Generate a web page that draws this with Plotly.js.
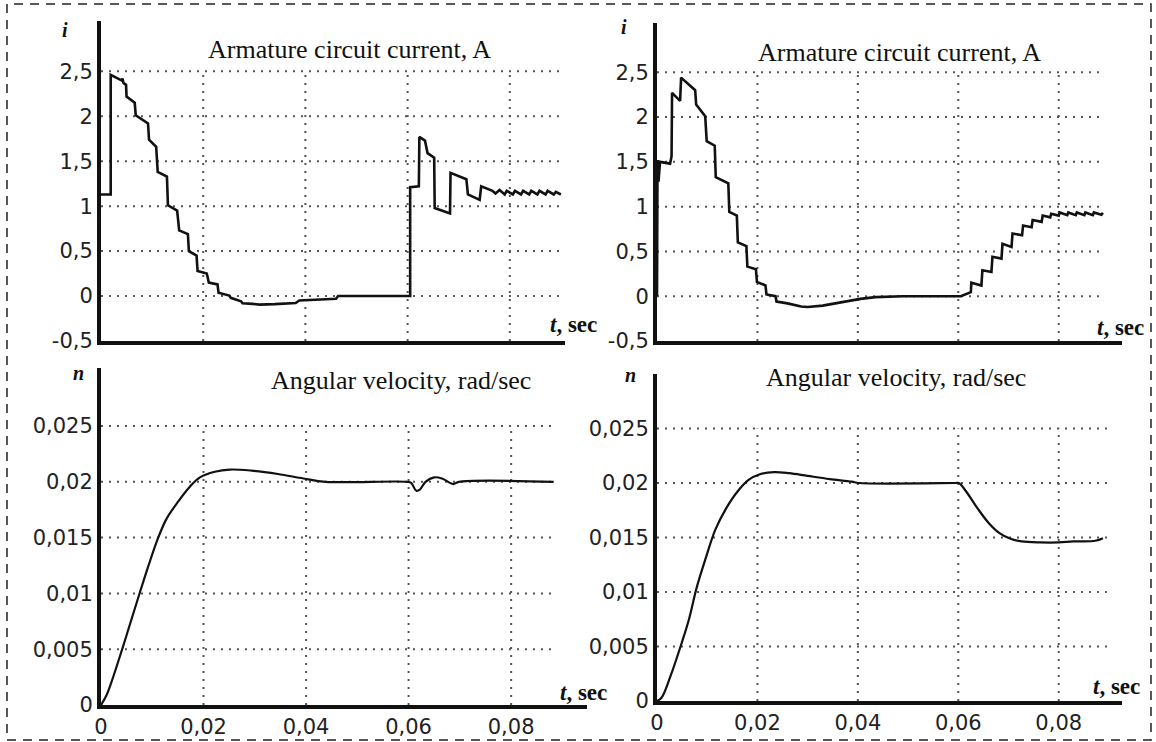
<!DOCTYPE html>
<html>
<head>
<meta charset="utf-8">
<script src="https://cdn.plot.ly/plotly-3.0.1.min.js"></script>
<style>html,body{margin:0;padding:0;background:#fff;}#chart{width:1156px;height:742px;}</style>
</head>
<body>
<div id="chart"></div>
<script>
// ---------- data ----------
// Top-left: armature current, step-wise (t in s, i in A)
const tlT = [0,0.0019,0.0019,0.0040,0.0042,0.0044,0.0049,0.0050,0.0066,0.0068,0.0092,0.0094,0.0108,0.0111,0.0129,0.0131,0.0149,0.0153,0.0170,0.0172,0.0187,0.0189,0.0207,0.0211,0.0228,0.0230,0.0251,0.0254,0.0274,0.0277,0.0297,0.0310,0.0340,0.0381,0.0388,0.0420,0.0460,0.0464,0.0605,0.0605,0.0622,0.0623,0.0634,0.0639,0.0652,0.0653,0.0683,0.0684,0.0715,0.0718,0.0741,0.0744,0.0757,0.0766,0.0772,0.0780,0.0790,0.0794,0.0806,0.0810,0.0822,0.0826,0.0838,0.0842,0.0854,0.0858,0.0870,0.0874,0.0886,0.0890,0.0900];
const tlI = [1.13,1.13,2.46,2.40,2.42,2.37,2.35,2.22,2.15,2.01,1.92,1.74,1.66,1.38,1.33,1.01,0.95,0.73,0.69,0.50,0.45,0.28,0.25,0.15,0.13,0.036,0.006,-0.02,-0.058,-0.08,-0.087,-0.095,-0.09,-0.078,-0.05,-0.04,-0.03,0,0,1.21,1.22,1.77,1.73,1.59,1.54,0.98,0.92,1.37,1.30,1.13,1.07,1.22,1.185,1.17,1.14,1.18,1.13,1.17,1.13,1.17,1.13,1.17,1.13,1.17,1.13,1.17,1.13,1.17,1.13,1.16,1.13];

// Top-right: armature current, step-wise
const trT = [0,0.0001,0.0003,0.0006,0.0026,0.0029,0.0030,0.0046,0.0048,0.0076,0.0078,0.0096,0.0099,0.0115,0.0117,0.0142,0.0144,0.0159,0.0161,0.0178,0.0180,0.0197,0.0199,0.0216,0.0218,0.0236,0.0238,0.0260,0.0287,0.0300,0.0330,0.0360,0.0405,0.0435,0.0490,0.0605,0.0615,0.0625,0.0626,0.0646,0.0648,0.0666,0.0668,0.0686,0.0688,0.0706,0.0708,0.0727,0.0729,0.0746,0.0748,0.0766,0.0768,0.0783,0.0785,0.0800,0.0802,0.0817,0.0819,0.0834,0.0836,0.0851,0.0853,0.0868,0.0870,0.0885,0.0888];
const trI = [0,1.52,1.28,1.50,1.48,1.56,2.27,2.18,2.44,2.30,2.14,2.01,1.73,1.68,1.33,1.26,0.94,0.90,0.60,0.56,0.33,0.30,0.16,0.12,0.02,0.0,-0.06,-0.08,-0.115,-0.12,-0.105,-0.075,-0.03,-0.01,0,0,0.02,0.045,0.15,0.12,0.29,0.27,0.44,0.42,0.585,0.55,0.70,0.68,0.79,0.77,0.85,0.83,0.90,0.88,0.92,0.90,0.935,0.905,0.935,0.905,0.935,0.905,0.935,0.905,0.935,0.91,0.93];

// Bottom-left: angular velocity
const blT = [0,0.0010,0.0020,0.0042,0.0063,0.0078,0.0092,0.0110,0.0128,0.0150,0.0172,0.0193,0.0222,0.0251,0.0294,0.0345,0.0395,0.0438,0.0597,0.0605,0.0615,0.0622,0.0633,0.0650,0.0665,0.0687,0.0698,0.0883];
const blN = [0,0.0008,0.0020,0.0051,0.0082,0.0104,0.0124,0.0148,0.0167,0.0182,0.0195,0.0204,0.0209,0.0211,0.0210,0.0207,0.0203,0.0200,0.0200,0.0199,0.0192,0.0193,0.0200,0.0204,0.0203,0.0198,0.0200,0.0200];

// Bottom-right: angular velocity
const brT = [0,0.0009,0.0027,0.0049,0.0064,0.0079,0.0097,0.0116,0.0138,0.0160,0.0183,0.0205,0.0233,0.0263,0.0300,0.0344,0.0388,0.0402,0.0594,0.0601,0.0616,0.0638,0.0660,0.0682,0.0704,0.0726,0.0763,0.0800,0.0829,0.0873,0.0888];
const brN = [0,0.0003,0.0023,0.0053,0.00755,0.0104,0.0131,0.0157,0.0177,0.0192,0.0203,0.0208,0.0210,0.0209,0.02065,0.02036,0.02012,0.0200,0.0200,0.0200,0.0192,0.0177,0.01636,0.0154,0.01488,0.01464,0.01455,0.01455,0.01464,0.0147,0.01494];

// tick labels
const xTickVals = [0,0.02,0.04,0.06,0.08];
const xTickText = ['0','0,02','0,04','0,06','0,08'];
const iTickVals = [-0.5,0,0.5,1,1.5,2,2.5];
const iTickText = ['-0,5','0','0,5','1','1,5','2','2,5'];
const nTickVals = [0,0.005,0.01,0.015,0.02,0.025];
const nTickText = ['0','0,005','0,01','0,015','0,02','0,025'];

const currentTitle = 'Armature circuit current, A';
const velocityTitle = 'Angular velocity, rad/sec';

// ---------- layout helpers ----------
const W = 1156, H = 742;
const px = v => v / W;
const py = v => 1 - v / H;

const tickFont = {family: 'DejaVu Sans, Verdana, sans-serif', size: 21, color: '#222'};

function xAxis(dom, rng, labels, anchor) {
  return {domain: dom, range: rng, anchor: anchor, showgrid: false, zeroline: false, showline: true,
    linecolor: '#111', linewidth: 4, ticks: '', tickvals: xTickVals, ticktext: xTickText,
    showticklabels: labels, tickfont: tickFont, fixedrange: true};
}
function yAxis(dom, rng, vals, text, anchor) {
  return {domain: dom, range: rng, anchor: anchor, showgrid: false, zeroline: false, showline: true,
    linecolor: '#111', linewidth: 4, ticks: '', tickvals: vals, ticktext: text,
    tickfont: tickFont, fixedrange: true};
}

const panels = [
  {xa: 'x', ya: 'y', t: tlT, v: tlI, shape: 'linear', w: 2.6, yv: iTickVals, gridEnd: 0.090},
  {xa: 'x2', ya: 'y2', t: trT, v: trI, shape: 'linear', w: 2.6, yv: iTickVals, gridEnd: 0.0892},
  {xa: 'x3', ya: 'y3', t: blT, v: blN, shape: 'spline', w: 2.2, yv: nTickVals, gridEnd: 0.0883},
  {xa: 'x4', ya: 'y4', t: brT, v: brN, shape: 'spline', w: 2.2, yv: nTickVals, gridEnd: 0.0896}
];

const traces = panels.map(p => ({
  x: p.t, y: p.v, xaxis: p.xa, yaxis: p.ya, type: 'scatter', mode: 'lines',
  line: {color: '#111', width: p.w, shape: p.shape, smoothing: 1},
  hoverinfo: 'skip', showlegend: false
}));

// dotted grid built from tick arrays
const gridLine = {color: '#555', width: 2, dash: '2px,6px'};
const shapes = [];
panels.forEach(p => {
  const yTop = p.yv[p.yv.length - 1], yBot = p.yv[0];
  xTickVals.slice(1).forEach(xv => shapes.push({type: 'line', xref: p.xa, yref: p.ya,
    x0: xv, x1: xv, y0: yBot, y1: yTop, line: gridLine, layer: 'below'}));
  p.yv.slice(1).forEach(yv => shapes.push({type: 'line', xref: p.xa, yref: p.ya,
    x0: 0, x1: p.gridEnd, y0: yv, y1: yv, line: gridLine, layer: 'below'}));
});
// dashed frame around the whole figure
shapes.push({type: 'rect', xref: 'paper', yref: 'paper', x0: px(7), x1: px(1151), y0: py(740), y1: py(4),
  line: {color: '#222', width: 1.5, dash: '9px,7px'}});

const serif = 'Liberation Serif, Times New Roman, serif';
const titleFont = {family: serif, size: 26, color: '#111'};
const labFont = {family: serif, size: 23, color: '#111'};
const letterFont = {family: serif, size: 20, color: '#111'};
function ann(text, x, y, font) {
  return {text: text, xref: 'paper', yref: 'paper', x: px(x), y: py(y), showarrow: false,
    xanchor: 'center', yanchor: 'middle', font: font};
}
const annotations = [
  ann(currentTitle, 349, 50, titleFont),
  ann(currentTitle, 899, 52, titleFont),
  ann(velocityTitle, 401, 380, titleFont),
  ann(velocityTitle, 896, 377, titleFont),
  ann('<b><i>i</i></b>', 65, 30, letterFont),
  ann('<b><i>i</i></b>', 624, 27, letterFont),
  ann('<b><i>n</i></b>', 78, 373, letterFont),
  ann('<b><i>n</i></b>', 630, 375, letterFont),
  ann('<b><i>t</i>, sec</b>', 573, 325, labFont),
  ann('<b><i>t</i>, sec</b>', 1120, 328, labFont),
  ann('<b><i>t</i>, sec</b>', 583, 692, labFont),
  ann('<b><i>t</i>, sec</b>', 1116, 686, labFont)
];

const layout = {
  width: W, height: H, margin: {l: 0, r: 0, t: 0, b: 0},
  paper_bgcolor: '#fff', plot_bgcolor: 'rgba(0,0,0,0)', showlegend: false,
  xaxis:  xAxis([px(101), px(565)], [0, 0.0908], false, 'y'),
  yaxis:  yAxis([py(341), py(21)], [-0.5, 3.06], iTickVals, iTickText, 'x'),
  xaxis2: xAxis([px(657), px(1122)], [0, 0.0926], false, 'y2'),
  yaxis2: yAxis([py(341), py(23)], [-0.5, 3.05], iTickVals, iTickText, 'x2'),
  xaxis3: xAxis([px(101), px(587)], [0, 0.0948], true, 'y3'),
  yaxis3: yAxis([py(705), py(368)], [0, 0.0302], nTickVals, nTickText, 'x3'),
  xaxis4: xAxis([px(657), px(1122)], [0, 0.0926], true, 'y4'),
  yaxis4: yAxis([py(701), py(374)], [0, 0.0300], nTickVals, nTickText, 'x4'),
  shapes: shapes, annotations: annotations
};

Plotly.newPlot('chart', traces, layout, {displayModeBar: false, staticPlot: true});
</script>
</body>
</html>
